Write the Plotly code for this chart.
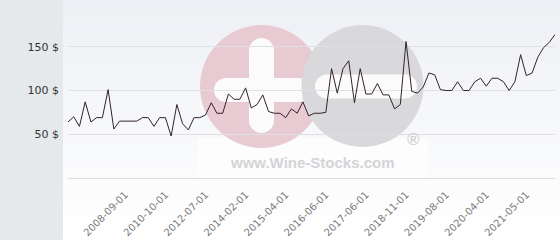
import plotly.graph_objects as go

# ---- data ----
prices = [64, 70, 59, 87, 64, 69, 69, 101, 56, 65,
          65, 65, 65, 69, 69, 59, 69, 69, 48, 84,
          62, 55, 69, 69, 72, 86, 74, 74, 96, 90,
          90, 103, 80, 84, 95, 76, 74, 74, 69, 79,
          74, 87, 71, 74, 74, 75, 125, 97, 125, 134,
          86, 125, 96, 96, 108, 95, 95, 79, 84, 156,
          99, 97, 104, 120, 118, 101, 100, 100, 110, 100,
          100, 110, 114, 105, 114, 114, 110, 100, 110, 141,
          117, 120, 138, 149, 155, 164]
tick_labels = ["2008-09-01", "2010-10-01", "2012-07-01", "2014-02-01",
               "2015-04-01", "2016-06-01", "2017-06-01", "2018-11-01",
               "2019-08-01", "2020-04-01", "2021-05-01"]
first_labelled = 10
label_step = 7
y_ticks = [50, 100, 150]
y_tick_text = [f"{v} $" for v in y_ticks]

W, H = 560, 240
L, R, T, B = 68, 5, 3, 62
PW, PH = W - L - R, H - T - B


def px(x):
    return (x - L) / PW


def py(y):
    return (H - B - y) / PH


shapes = []
# left grey panel
shapes.append(dict(type="rect", xref="paper", yref="paper", layer="below",
                   x0=px(0), x1=px(63), y0=py(H), y1=py(0),
                   fillcolor="#e6e9ec", line=dict(width=0)))
# vertical gradient background
n = 24
c0 = (238, 240, 245)
c1 = (255, 255, 255)
for i in range(n):
    t = i / (n - 1)
    col = tuple(round(c0[k] + (c1[k] - c0[k]) * t) for k in range(3))
    y0 = H * i / n
    y1 = H * (i + 1) / n + 0.5
    shapes.append(dict(type="rect", xref="paper", yref="paper", layer="below",
                       x0=px(63), x1=px(W), y0=py(y1), y1=py(y0),
                       fillcolor="rgb(%d,%d,%d)" % col, line=dict(width=0)))


def circle(cx, cy, r, color):
    return dict(type="circle", xref="paper", yref="paper", layer="below",
                x0=px(cx - r), x1=px(cx + r), y0=py(cy + r), y1=py(cy - r),
                fillcolor=color, line=dict(width=0))


def rect(x0, y0, x1, y1, color):
    return dict(type="rect", xref="paper", yref="paper", layer="below",
                x0=px(x0), x1=px(x1), y0=py(y1), y1=py(y0),
                fillcolor=color, line=dict(width=0))


def hbar(x0, x1, yc, h, color):
    r = h / 2
    return [rect(x0 + r, yc - r, x1 - r, yc + r, color),
            circle(x0 + r, yc, r, color), circle(x1 - r, yc, r, color)]


def vbar(xc, y0, y1, w, color):
    r = w / 2
    return [rect(xc - r, y0 + r, xc + r, y1 - r, color),
            circle(xc, y0 + r, r, color), circle(xc, y1 - r, r, color)]


pink = "#e8cbd2"
grey = "#d9d9db"
wm_white = "#fbfbfc"
# watermark panel behind text
shapes.append(dict(type="rect", xref="paper", yref="paper", layer="below",
                   x0=px(197), x1=px(428), y0=py(177), y1=py(138),
                   fillcolor="rgba(255,255,255,0.6)", line=dict(width=0)))
shapes.append(circle(261.5, 86.5, 61.5, pink))
shapes += vbar(261.5, 38, 133, 25, wm_white)
shapes += hbar(214, 310, 90, 24, wm_white)
shapes.append(circle(362.5, 86, 61, grey))
shapes += hbar(315, 417, 86.5, 24, wm_white)

fig = go.Figure()
fig.add_trace(go.Scatter(
    x=list(range(len(prices))), y=prices, mode="lines",
    line=dict(color="#33222b", width=1), hoverinfo="skip", showlegend=False))

tickvals = [first_labelled + label_step * i for i in range(len(tick_labels))]

fig.update_layout(
    width=W, height=H,
    margin=dict(l=L, r=R, t=T, b=B, pad=0),
    paper_bgcolor="white",
    plot_bgcolor="rgba(0,0,0,0)",
    shapes=shapes,
    showlegend=False,
    font=dict(family="DejaVu Sans", size=11, color="#333333"),
    annotations=[
        dict(text="www.Wine-Stocks.com", xref="paper", yref="paper",
             x=px(312), y=py(162), xanchor="center", yanchor="middle",
             showarrow=False,
             font=dict(family="Liberation Sans", size=15, color="#d4d4d6",
                       weight="bold")),
        dict(text="®", xref="paper", yref="paper",
             x=px(413), y=py(139), xanchor="center", yanchor="middle",
             showarrow=False,
             font=dict(family="Liberation Sans", size=17, color="#d2d2d4",
                       weight="bold")),
    ],
)

fig.update_xaxes(
    range=[0, len(prices) - 1], tickmode="array", tickvals=tickvals,
    ticktext=tick_labels, tickangle=-45, showgrid=False, zeroline=False,
    showline=True, linecolor="#dcdde0", linewidth=1, ticks="",
    ticklabelstandoff=6, automargin=False,
    tickfont=dict(family="DejaVu Sans", size=10, color="#7a7a7a"),
)
fig.update_yaxes(
    range=[0, 200], tickmode="array", tickvals=y_ticks, ticktext=y_tick_text,
    showgrid=True, gridcolor="#dfe0e3", gridwidth=1, zeroline=False,
    showline=False, ticks="", ticklabelstandoff=8, automargin=False,
    tickfont=dict(family="DejaVu Sans", size=11, color="#333333"),
)

fig.write_html("out.html")
